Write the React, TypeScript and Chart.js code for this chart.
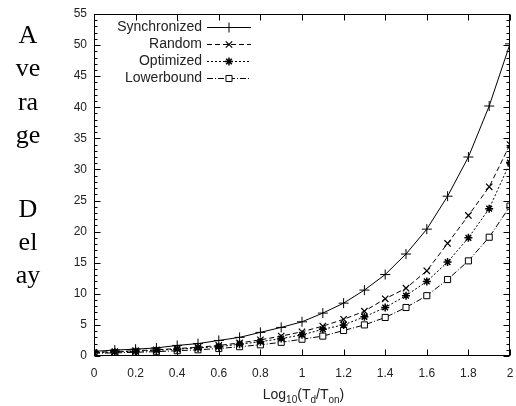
import React, { useEffect, useRef } from "react";
import { Chart, registerables } from "chart.js";
import { drawPoint } from "chart.js/helpers";

Chart.register(...registerables);

const xValues = [0, 0.1, 0.2, 0.3, 0.4, 0.5, 0.6, 0.7, 0.8, 0.9, 1.0, 1.1, 1.2, 1.3, 1.4, 1.5, 1.6, 1.7, 1.8, 1.9, 2.0];
const synchronized = [0.75, 0.95, 1.1, 1.3, 1.7, 2.0, 2.5, 3.0, 3.8, 4.6, 5.5, 6.9, 8.5, 10.6, 13.1, 16.4, 20.4, 25.7, 32.0, 40.2, 50.2];
const random = [0.6, 0.7, 0.85, 1.0, 1.2, 1.4, 1.7, 2.1, 2.6, 3.2, 3.9, 4.8, 5.9, 7.2, 9.2, 10.9, 13.7, 18.1, 22.6, 27.2, 34.0];
const optimized = [0.55, 0.65, 0.75, 0.9, 1.1, 1.3, 1.5, 1.9, 2.3, 2.8, 3.4, 4.3, 5.0, 6.3, 7.8, 9.7, 12.0, 15.1, 19.0, 23.7, 31.1];
const lowerbound = [0.45, 0.5, 0.6, 0.7, 0.85, 1.0, 1.2, 1.5, 1.8, 2.2, 2.7, 3.2, 4.1, 5.0, 6.2, 7.8, 9.7, 12.3, 15.3, 19.1, 24.1];

const seriesNames = ["Synchronized", "Random", "Optimized", "Lowerbound"];
const yTitleTop = ["A", "ve", "ra", "ge"];
const yTitleBottom = ["D", "el", "ay"];

const SANS = '"Liberation Sans", Arial, sans-serif';
const SERIF = '"Liberation Serif", "Times New Roman", serif';

const styles = [
  { dash: [], point: "cross", radius: 5, bw: 1, fill: "#000" },
  { dash: [5, 3], point: "crossRot", radius: 4.5, bw: 1.2, fill: "#000" },
  { dash: [2, 2], point: "star", radius: 4, bw: 1.5, fill: "#000" },
  { dash: [6, 2, 1, 2], point: "rect", radius: 4.3, bw: 1, fill: "#fff" },
];

const decorPlugin = {
  id: "decor",
  afterDraw(chart: any) {
    const ctx = chart.ctx;
    const area = chart.chartArea;
    const xs = chart.scales.x;
    const ys = chart.scales.y;
    ctx.save();
    ctx.strokeStyle = "#000";
    ctx.lineWidth = 1;
    ctx.setLineDash([]);
    const L = Math.round(area.left) + 0.5;
    const R = Math.round(area.right) - 0.5;
    const T = Math.round(area.top) + 0.5;
    const B = Math.round(area.bottom) - 0.5;
    ctx.strokeRect(L, T, R - L, B - T);
    ctx.beginPath();
    for (let i = 0; i <= 10; i++) {
      const v = i * 0.2;
      const px = Math.round(xs.getPixelForValue(v)) + 0.5;
      ctx.moveTo(px, B);
      ctx.lineTo(px, B - 6);
      ctx.moveTo(px, T);
      ctx.lineTo(px, T + 6);
    }
    for (let v = 0; v <= 55; v++) {
      const py = Math.round(ys.getPixelForValue(v)) + 0.5;
      const len = v % 5 === 0 ? 6 : 3;
      ctx.moveTo(L, py);
      ctx.lineTo(L + len, py);
      ctx.moveTo(R, py);
      ctx.lineTo(R - len, py);
    }
    ctx.stroke();

    // legend
    ctx.font = `14px ${SANS}`;
    ctx.fillStyle = "#222";
    ctx.textAlign = "right";
    ctx.textBaseline = "middle";
    seriesNames.forEach((name, i) => {
      const cy = 27 + i * 17;
      ctx.fillText(name, 202, cy);
      const st = styles[i];
      ctx.beginPath();
      ctx.setLineDash(st.dash);
      ctx.moveTo(207, cy + 0.5);
      ctx.lineTo(251, cy + 0.5);
      ctx.stroke();
      ctx.setLineDash([]);
      ctx.fillStyle = st.fill;
      ctx.lineWidth = st.bw;
      drawPoint(ctx, { pointStyle: st.point, radius: st.radius, borderWidth: st.bw, rotation: 0 } as any, 229, cy + 0.5);
      ctx.lineWidth = 1;
      ctx.fillStyle = "#222";
    });

    // y title (stacked text)
    ctx.font = `26px ${SERIF}`;
    ctx.fillStyle = "#000";
    ctx.textAlign = "center";
    ctx.textBaseline = "alphabetic";
    yTitleTop.forEach((t, i) => ctx.fillText(t, 28, 43 + i * 33.3));
    yTitleBottom.forEach((t, i) => ctx.fillText(t, 28, 217 + i * 33));

    // x title with subscripts
    const parts: [string, boolean][] = [["Log", false], ["10", true], ["(T", false], ["d", true], ["/T", false], ["on", true], [")", false]];
    const big = `14px ${SANS}`;
    const small = `10px ${SANS}`;
    let total = 0;
    parts.forEach(([t, sub]) => {
      ctx.font = sub ? small : big;
      total += ctx.measureText(t).width;
    });
    let x = 303.5 - total / 2;
    ctx.textAlign = "left";
    ctx.fillStyle = "#222";
    parts.forEach(([t, sub]) => {
      ctx.font = sub ? small : big;
      ctx.fillText(t, x, sub ? 402.5 : 399);
      x += ctx.measureText(t).width;
    });
    ctx.restore();
  },
};

export default function App() {
  const ref = useRef<HTMLCanvasElement>(null);
  useEffect(() => {
    if (!ref.current) return;
    const series = [synchronized, random, optimized, lowerbound];
    const chart = new Chart(ref.current, {
      type: "line",
      data: {
        datasets: series.map((vals, i) => ({
          label: seriesNames[i],
          data: xValues.map((x, j) => ({ x, y: vals[j] })),
          borderColor: "#000",
          borderWidth: 1,
          borderDash: styles[i].dash,
          pointStyle: styles[i].point as any,
          pointRadius: styles[i].radius,
          pointBorderWidth: styles[i].bw,
          pointBorderColor: "#000",
          pointBackgroundColor: styles[i].fill,
          tension: 0,
          fill: false,
        })),
      },
      options: {
        responsive: false,
        animation: false,
        layout: { padding: { left: 0, top: 14, right: 4, bottom: 0 } },
        plugins: { legend: { display: false }, tooltip: { enabled: false } },
        scales: {
          x: {
            type: "linear",
            min: 0,
            max: 2,
            afterFit: (s: any) => {
              s.height = 50;
              s.paddingLeft = 0;
              s.paddingRight = 0;
            },
            grid: { display: false, drawTicks: false },
            border: { display: false },
            ticks: {
              stepSize: 0.2,
              autoSkip: false,
              maxRotation: 0,
              padding: 10,
              color: "#222",
              font: { family: SANS, size: 12 },
              callback: (v: any) => String(Math.round(Number(v) * 10) / 10),
            },
          },
          y: {
            type: "linear",
            min: 0,
            max: 55,
            afterFit: (s: any) => {
              s.width = 94;
              s.paddingTop = 0;
              s.paddingBottom = 0;
            },
            grid: { display: false, drawTicks: false },
            border: { display: false },
            ticks: {
              stepSize: 5,
              padding: 7,
              color: "#222",
              font: { family: SANS, size: 12 },
              callback: (v: any) => String(v),
            },
          },
        },
      },
      plugins: [decorPlugin],
    });
    return () => chart.destroy();
  }, []);
  return (
    <div style={{ position: "absolute", left: 0, top: 0, width: 516, height: 406, background: "#fff" }}>
      <canvas ref={ref} width={516} height={406} style={{ display: "block" }} />
    </div>
  );
}
